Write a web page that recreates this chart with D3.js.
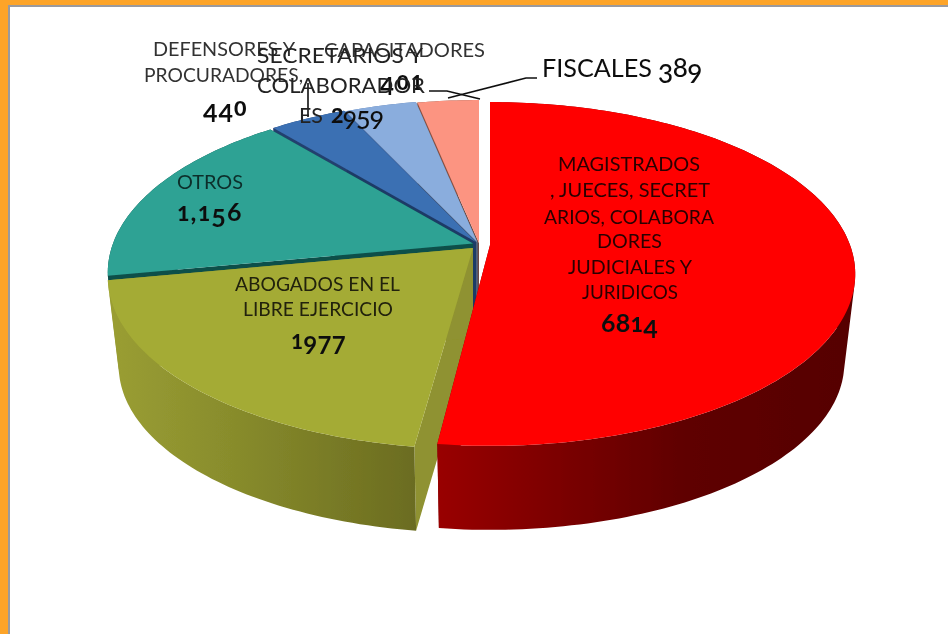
<!DOCTYPE html>
<html>
<head>
<meta charset="utf-8">
<script src="https://cdn.jsdelivr.net/npm/d3@7"></script>
<style>
  html, body { margin: 0; padding: 0; background: #fff; }
  svg { display: block; }
  text { font-family: Lato, sans-serif; }
</style>
</head>
<body>
<script>
// slice sizes as drawn in the picture, in degrees (they do not follow the printed numbers)
const slices = ["magistrados", "gap", "abogados", "otros", "defensores", "capacitadores", "fiscales"];
const sliceDegrees = [187, 0.8, 71.4, 61.3, 14.5, 13.5, 11.5];

const sliceColors = ["#ff0000", null, "#a4ab35", "#2ea294", "#3b6fb3", "#8aaddd", "#fc9481"];
const cutColors = ["#7a0000", null, "#8f9230", "#0f4f4a", "#1f3a66", "#4f5f7a", "#6e4a42"];
const wallColors = ["url(#wall0)", null, "url(#wall1)", "#0f4f4a", "#23406e", "#5f7fb0", "#8a5040"];

// screen shift of each exploded slice
const explode = [[11, 0], [0, 0], [-6, 3], [-6, -1.5], [-3, -3], [-1.5, -2.5], [0, -2]];

// label lines: text, left, baseline, width, size, weight, colour
const labelLines = [
  ["MAGISTRADOS", 558, 171, 142, 19, 400, "#2a0000"],
  [", JUECES, SECRET", 550, 197, 160, 19, 400, "#2a0000"],
  ["ARIOS, COLABORA", 544, 224, 170, 19, 400, "#2a0000"],
  ["DORES", 597, 248, 65, 19, 400, "#2a0000"],
  ["JUDICIALES Y", 568, 274, 124, 19, 400, "#2a0000"],
  ["JURIDICOS", 582, 299, 96, 19, 400, "#2a0000"],
  ["6814", 601, 332, 57, 25, 700, "#111"],
  ["ABOGADOS EN EL", 235, 291, 165, 19, 400, "#22220c"],
  ["LIBRE EJERCICIO", 243, 316, 150, 19, 400, "#22220c"],
  ["1977", 291, 349, 55, 24, 700, "#111"],
  ["OTROS", 177, 189, 66, 19, 400, "#0c2f2b"],
  ["1,156", 177, 221, 66, 25, 700, "#111"],
  ["DEFENSORES Y", 153, 56, 142, 19, 400, "#333"],
  ["PROCURADORES,", 144, 82, 159, 19, 400, "#333"],
  ["440", 203, 116, 44, 25, 700, "#111"],
  ["CAPACITADORES", 324, 57, 161, 19, 400, "#333"],
  ["401", 380, 90, 45, 24, 700, "#111"],
  ["SECRETARIOS Y", 257, 63, 166, 22, 400, "#222"],
  ["COLABORADOR", 257, 93, 168, 22, 400, "#222"],
  ["ES", 299, 123, 24, 21, 400, "#222"],
  ["2959", 331, 123, 52, 25, 500, "#111"],
  ["FISCALES", 542, 77, 110, 25, 400, "#111"],
  ["389", 658, 77, 44, 26, 500, "#111"]
];

const leaders = [
  [[537, 78], [526, 78], [448, 98]],
  [[429, 91], [447, 91], [480, 99]],
  [[308, 83], [308, 117]]
];

const width = 948, height = 634;
const cx = 479, cy = 245;
const a = 360, b = 167, p = 0.1686;
const depth = 90, shrink = 0.97;

const svg = d3.select("body").append("svg")
    .attr("width", width)
    .attr("height", height);

const defs = svg.append("defs");
defs.append("filter").attr("id", "soft")
  .append("feGaussianBlur").attr("stdDeviation", 0.45);

function gradient(id, x1, x2, stops) {
  const g = defs.append("linearGradient")
      .attr("id", id)
      .attr("gradientUnits", "userSpaceOnUse")
      .attr("x1", x1).attr("x2", x2)
      .attr("y1", 0).attr("y2", 0);
  stops.forEach(([o, c]) => g.append("stop").attr("offset", o).attr("stop-color", c));
}
gradient("wall0", 437, 860, [[0, "#990000"], [0.3, "#7a0000"], [0.6, "#5e0000"], [1, "#560000"]]);
gradient("wall1", 110, 416, [[0, "#9a9e33"], [0.4, "#888c2c"], [1, "#6b6c20"]]);

// perspective map from the unit disc to the screen, lower = bottom face
function project(angle, r, offset, lower) {
  const u = r * Math.sin(angle), v = -r * Math.cos(angle);
  const s = 1 / (1 - p * v) * (lower ? shrink : 1);
  return [cx + offset[0] + a * u * s, cy + offset[1] + b * v * s + (lower ? depth : 0)];
}

function rim(d, offset, lower) {
  const n = Math.max(2, Math.ceil((d.endAngle - d.startAngle) / 0.02));
  return d3.range(n + 1).map(i =>
    project(d.startAngle + (d.endAngle - d.startAngle) * i / n, 1, offset, lower));
}

const closed = d3.line().curve(d3.curveLinearClosed);

// every quad wound the same way so the path stays one solid shape
function wallPath(d, offset) {
  const top = rim(d, offset, false), bottom = rim(d, offset, true);
  return d3.range(top.length - 1).map(i => {
    const quad = [top[i], top[i + 1], bottom[i + 1], bottom[i]];
    return closed(d3.polygonArea(quad) < 0 ? quad.reverse() : quad);
  }).join("");
}

function cutPath(angle, offset) {
  return closed([
    project(angle, 0, offset, false),
    project(angle, 1, offset, false),
    project(angle, 1, offset, true),
    project(angle, 0, offset, true)
  ]);
}

function topPath(d, offset) {
  return closed([project(0, 0, offset, false), ...rim(d, offset, false)]);
}

const pie = d3.pie().sort(null).value(d => d.size);
const arcs = pie(slices.map((name, i) => ({name, size: sliceDegrees[i], i})));

const chart = svg.append("g").attr("filter", "url(#soft)");

// back slices first, red and olive last
const order = arcs.filter(d => sliceColors[d.data.i]).sort((m, n) => d3.descending(m.data.i, n.data.i));
order.forEach(d => {
  const i = d.data.i, offset = explode[i];
  const g = chart.append("g");
  g.append("path").attr("d", cutPath(d.startAngle, offset)).attr("fill", cutColors[i]);
  g.append("path").attr("d", cutPath(d.endAngle, offset)).attr("fill", cutColors[i]);
  g.append("path").attr("d", wallPath(d, offset)).attr("fill", wallColors[i]);
  g.append("path").attr("d", topPath(d, offset)).attr("fill", sliceColors[i]);
});

chart.append("g")
    .attr("fill", "none")
    .attr("stroke", "#111")
    .attr("stroke-width", 1.6)
  .selectAll("path")
  .data(leaders)
  .join("path")
    .attr("d", d3.line());

const isNumber = s => /^[\d,]+$/.test(s);

const labels = chart.append("g")
  .selectAll("text")
  .data(labelLines)
  .join("text")
    .attr("x", d => d[1])
    .attr("y", d => d[2])
    .attr("font-size", d => d[4])
    .attr("font-weight", d => d[5])
    .attr("fill", d => d[6]);

labels.filter(d => !isNumber(d[0]))
    .attr("textLength", d => d[3])
    .attr("lengthAdjust", "spacingAndGlyphs")
    .text(d => d[0]);

// the source font has old-style figures: 0 1 2 sit small, 3 4 5 7 9 hang below the line
labels.filter(d => isNumber(d[0])).each(function(d) {
  const chars = Array.from(d[0]);
  const step = c => c === "," ? 0.45 : "012".includes(c) ? 0.85 : 1;
  const unit = d[3] / d3.sum(chars, step);
  let x = d[1];
  d3.select(this).selectAll("tspan")
    .data(chars)
    .join("tspan")
      .attr("x", c => { const at = x; x += step(c) * unit; return at; })
      .attr("y", c => "34579".includes(c) ? d[2] + d[4] * 0.22 : d[2])
      .attr("font-size", c => "012".includes(c) ? d[4] * 0.86 : d[4])
      .attr("font-weight", c => "012".includes(c) ? 900 : d[5])
      .text(c => c);
});

// frame
svg.append("rect").attr("x", 0).attr("y", 0).attr("width", width).attr("height", 5).attr("fill", "#fda428");
svg.append("rect").attr("x", 0).attr("y", 0).attr("width", 8).attr("height", height).attr("fill", "#fda428");
svg.append("rect").attr("x", 8).attr("y", 5).attr("width", width - 8).attr("height", 2).attr("fill", "#9a9a9e");
svg.append("rect").attr("x", 8).attr("y", 5).attr("width", 2).attr("height", height - 5).attr("fill", "#9a9a9e");
</script>
</body>
</html>
